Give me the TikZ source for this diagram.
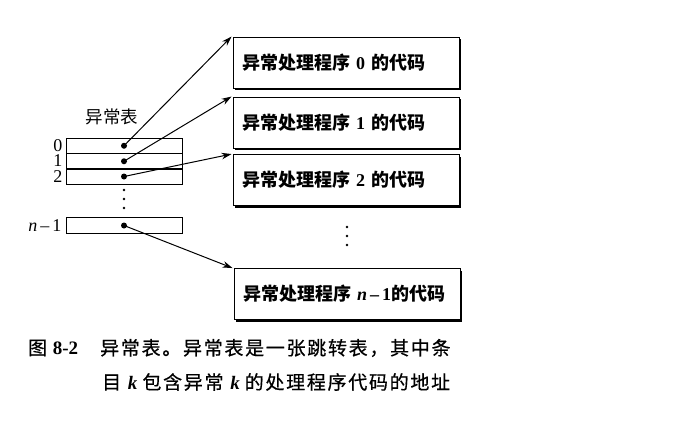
\documentclass[tikz,border=0pt]{standalone}
\usepackage{fontspec}
\setmainfont{Liberation Serif}
\newfontfamily\cjk{Noto Sans CJK SC}
\newfontfamily\capfont[LetterSpace=9,FakeBold=0.6]{Noto Sans CJK SC}
\usetikzlibrary{arrows.meta,shadows}
\begin{document}
\begin{tikzpicture}[x=1pt,y=-1pt,
  cell/.style={draw,line width=0.9pt,minimum width=116pt,minimum height=15.5pt,inner sep=0pt},
  ptr/.style={circle,fill,inner sep=0pt,minimum size=6pt},
  vdot/.style={circle,fill,inner sep=0pt,minimum size=2.6pt},
  handler/.style={draw,line width=0.9pt,fill=white,minimum height=51pt,text width=208pt,
    inner xsep=9pt,align=left,font=\fontsize{18}{19}\selectfont,
    drop shadow={shadow xshift=2pt,shadow yshift=-2pt,opacity=1,fill=black}},
  link/.style={line width=1pt,-{Stealth[length=10pt,width=6.5pt]}},
  idx/.style={anchor=east,inner sep=0pt,text height=11pt,text depth=0pt,font=\fontsize{18}{18}\selectfont}]
\useasboundingbox (0,0) rectangle (687,428);
% table
\node[cell] (r0) at (124,145.75) {};
\node[cell] (r1) at (124,161.25) {};
\node[cell] (r2) at (124,176.5) {};
\node[cell] (rn) at (124,225.5) {};
\node[ptr] (d0) at (r0.center) {};
\node[ptr] (d1) at (r1.center) {};
\node[ptr] (d2) at (r2.center) {};
\node[ptr] (dn) at (rn.center) {};
\node[vdot] (t1) at (124,190) {};
\node[vdot] (t2) at (124,199) {};
\node[vdot] (t3) at (124,208) {};
\node[idx] (l0) at ([xshift=-3pt]r0.west) {0};
\node[idx] (l1) at ([xshift=-3pt]r1.west) {1};
\node[idx] (l2) at ([xshift=-3pt]r2.west) {2};
\node[idx] (ln) at ([xshift=-4pt]rn.west) {\textit{n}\,--\,1};
\node[font=\cjk\fontsize{17.5}{18}\selectfont] (title) at (112,117) {异常表};
% handlers
\node[handler] (b0) at (346,62.5) {{\cjk\bfseries 异常处理程序} \textbf{0} {\cjk\bfseries 的代码}};
\node[handler] (b1) at (346,122.5) {{\cjk\bfseries 异常处理程序} \textbf{1} {\cjk\bfseries 的代码}};
\node[handler] (b2) at (346,180) {{\cjk\bfseries 异常处理程序} \textbf{2} {\cjk\bfseries 的代码}};
\node[handler] (bn) at (347,294) {{\cjk\bfseries 异常处理程序} \textbf{\textit{n}}\,\textbf{--}\,\textbf{1}{\cjk\bfseries 的代码}};
\node[vdot] (s1) at (347,227) {};
\node[vdot] (s2) at (347,236) {};
\node[vdot] (s3) at (347,245) {};
% links
\draw[link] (d0.center) -- ([xshift=-1pt]b0.north west);
\draw[link] (d1.center) -- ([xshift=-1pt]b1.north west);
\draw[link] (d2.center) -- ([xshift=-1pt]b2.north west);
\draw[link] (dn.center) -- ([xshift=-1pt]bn.north west);
% caption
\node[anchor=west,inner sep=0pt,font=\fontsize{19}{20}\selectfont] (c0) at (28,348) {{\capfont 图}\hspace{4pt}\textbf{8-2}};
\node[anchor=west,inner sep=0pt,font=\fontsize{19}{20}\selectfont] (c1) at (100,348) {\capfont 异常表。异常表是一张跳转表，其中条};
\node[anchor=west,inner sep=0pt,font=\fontsize{19}{20}\selectfont] (c2) at (102,382) {{\capfont 目}\hspace{5pt}\textbf{\textit{k}}\hspace{5pt}{\capfont 包含异常}\hspace{5pt}\textbf{\textit{k}}\hspace{5pt}{\capfont 的处理程序代码的地址}};
\end{tikzpicture}
\end{document}
